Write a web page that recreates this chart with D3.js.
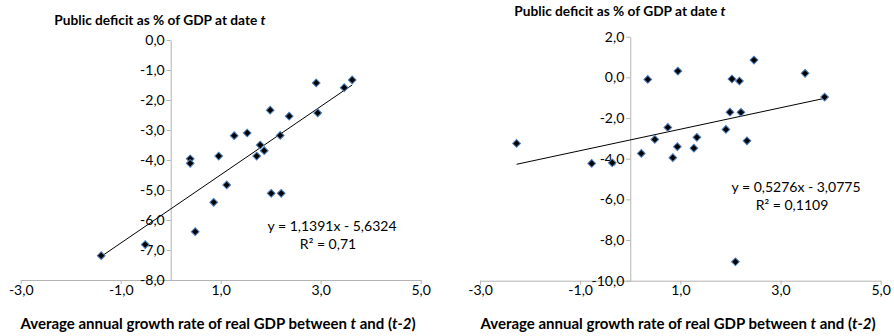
<!DOCTYPE html>
<html>
<head>
<meta charset="utf-8">
<title>Deficit vs growth</title>
<script src="https://d3js.org/d3.v7.min.js"></script>
<style>
  body { margin: 0; background: #fff; }
  text { font-family: Lato, "Open Sans", sans-serif; fill: #000; }
</style>
</head>
<body>
<script>
// left panel: growth (x) vs deficit (y)
const leftX = [0.39, 0.39, 0.96, 1.27, 1.53, 1.99, 1.79, 1.87, 1.72, 2.19, 2.37, 2.91, 2.94, 3.47, 3.63,
               1.12, 0.86, 2.01, 2.21, 0.49, -0.51, -1.39];
const leftY = [-3.96, -4.11, -3.87, -3.19, -3.10, -2.34, -3.50, -3.69, -3.87, -3.18, -2.54, -1.43, -2.43, -1.59, -1.33,
               -4.83, -5.41, -5.11, -5.11, -6.39, -6.82, -7.19];

// right panel
const rightX = [-2.27, -0.77, -0.36, 0.35, 0.22, 0.49, 0.75, 0.95, 0.94, 0.85, 1.27, 1.33, 1.91, 1.99, 2.03,
                2.18, 2.21, 2.33, 2.47, 3.49, 3.88, 2.10];
const rightY = [-3.25, -4.23, -4.20, -0.10, -3.74, -3.05, -2.46, 0.31, -3.41, -3.95, -3.48, -2.95, -2.56, -1.71, -0.08,
                -0.18, -1.72, -3.12, 0.85, 0.20, -0.97, -9.07];

const xTicks = [-3, -1, 1, 3, 5];
const leftYTicks = [0, -1, -2, -3, -4, -5, -6, -7, -8];
const rightYTicks = [2, 0, -2, -4, -6, -8, -10];

const trendLeft = { slope: 1.1391, intercept: -5.6324, eq: "y = 1,1391x - 5,6324", r2: "R² = 0,71" };
const trendRight = { slope: 0.5276, intercept: -3.0775, eq: "y = 0,5276x - 3,0775", r2: "R² = 0,1109" };

const yTitle = "Public deficit as % of GDP at date ";
const xTitle = ["Average annual growth rate of real GDP between ", "t", " and (", "t-2", ")"];

const fmt = v => d3.format(".1f")(v).replace("−", "-").replace(".", ",");

const svg = d3.select("body").append("svg")
  .attr("width", 894)
  .attr("height", 336);

function drawPanel(p) {
  const x = d3.scaleLinear().domain([-3, 5]).range(p.xRange);
  const y = d3.scaleLinear().domain(p.yDomain).range(p.yRange);
  const g = svg.append("g");

  const xAxis = g.append("g")
    .attr("transform", `translate(0,${y(p.yDomain[0])})`)
    .call(d3.axisBottom(x).tickValues(xTicks).tickFormat(fmt).tickSize(4).tickSizeOuter(0));
  xAxis.selectAll("text").attr("dy", "0.55em").style("font-size", "14px");

  const yAxis = g.append("g")
    .attr("transform", `translate(${x(0)},0)`)
    .call(d3.axisLeft(y).tickValues(p.yTicks).tickFormat(fmt).tickSize(4).tickSizeOuter(0));
  yAxis.selectAll("text").attr("x", -6).style("font-size", "14px");

  g.selectAll(".domain, .tick line").attr("stroke", "#b3b3b3");
  g.selectAll(".tick text").attr("fill", "#000");
  g.selectAll("g").attr("font-family", null);

  // trendline over the data range
  const x0 = d3.min(p.xs), x1 = d3.max(p.xs);
  g.append("line")
    .attr("x1", x(x0)).attr("y1", y(p.trend.slope * x0 + p.trend.intercept))
    .attr("x2", x(x1)).attr("y2", y(p.trend.slope * x1 + p.trend.intercept))
    .attr("stroke", "#000").attr("stroke-width", 1);

  // diamonds = rotated squares
  g.selectAll(".pt").data(d3.range(p.xs.length)).join("path")
    .attr("class", "pt")
    .attr("d", d3.symbol().type(d3.symbolSquare).size(30))
    .attr("transform", i => `translate(${x(p.xs[i])},${y(p.ys[i])}) rotate(45)`)
    .attr("fill", "#000")
    .attr("stroke", "#4a7ebb")
    .attr("stroke-width", 1);

  // equation
  g.append("text").attr("x", p.eqPos[0]).attr("y", p.eqPos[1])
    .attr("text-anchor", "middle").style("font-size", "14px").text(p.trend.eq);
  g.append("text").attr("x", p.eqPos[0] - 4).attr("y", p.eqPos[1] + 18)
    .attr("text-anchor", "middle").style("font-size", "14px").text(p.trend.r2);

  // titles
  const t = g.append("text").attr("x", p.titlePos[0]).attr("y", p.titlePos[1])
    .attr("text-anchor", "middle").style("font-size", "13.7px").style("font-weight", "bold");
  t.append("tspan").text(yTitle);
  t.append("tspan").style("font-style", "italic").text("t");

  const xt = g.append("text").attr("x", p.xTitlePos[0]).attr("y", p.xTitlePos[1])
    .attr("text-anchor", "middle").style("font-size", "15px").style("font-weight", "bold");
  xTitle.forEach((s, i) => {
    xt.append("tspan").style("font-style", i === 1 || i === 3 ? "italic" : "normal").text(s);
  });
}

drawPanel({
  xs: leftX, ys: leftY,
  xRange: [20.7, 420.7], yDomain: [-8, 0], yRange: [280, 40], yTicks: leftYTicks,
  trend: trendLeft, eqPos: [332, 231], titlePos: [160, 25], xTitlePos: [218, 329]
});

drawPanel({
  xs: rightX, ys: rightY,
  xRange: [480, 880.7], yDomain: [-10, 2], yRange: [280.7, 36.7], yTicks: rightYTicks,
  trend: trendRight, eqPos: [796, 192], titlePos: [620, 16], xTitlePos: [678, 329]
});
</script>
</body>
</html>
